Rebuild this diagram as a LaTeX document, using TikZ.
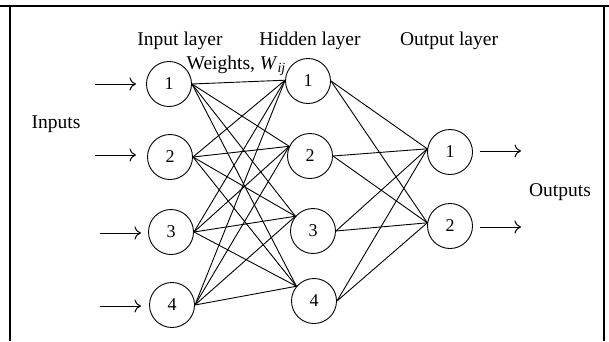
\documentclass[tikz,border=0pt]{standalone}
\usepackage{fontspec}
\setmainfont{Liberation Serif}
\usetikzlibrary{arrows.meta}
\begin{document}
\begin{tikzpicture}[x=1pt,y=-1pt,
  neuron/.style={circle,draw,line width=0.9pt,minimum size=45pt,inner sep=0pt,font=\fontsize{18}{20}\selectfont},
  lbl/.style={font=\fontsize{19.5}{22}\selectfont,inner sep=0pt},
  wire/.style={line width=0.9pt},
  inarrow/.style={line width=1pt,-{Computer Modern Rightarrow[length=6.5pt,width=13pt]}},
  frame/.style={line width=1.5pt}]
\useasboundingbox (0,0) rectangle (609,341);
\draw[frame] (0,6) -- (609,6);
\draw[frame] (10,6) -- (10,341);
\draw[frame] (604,6) -- (604,341);
% labels
\node[lbl] (linput) at (180,41) {Input layer};
\node[lbl] (lhidden) at (310,41) {Hidden layer};
\node[lbl] (loutput) at (449,41) {Output layer};
\node[lbl] (lweights) at (236,66) {Weights, \textit{W}\raisebox{-0.35ex}{\fontsize{14}{14}\selectfont\textit{ij}}};
\node[lbl] (linputs) at (56,124) {Inputs};
\node[lbl] (loutputs) at (560,192) {Outputs};
% neurons
\node[neuron] (i1) at (169,84) {1};
\node[neuron] (i2) at (170,157) {2};
\node[neuron] (i3) at (171,232) {3};
\node[neuron] (i4) at (172,305) {4};
\node[neuron] (h1) at (308,81) {1};
\node[neuron] (h2) at (310,156) {2};
\node[neuron] (h3) at (313,231) {3};
\node[neuron] (h4) at (314,301) {4};
\node[neuron] (o1) at (450,152) {1};
\node[neuron] (o2) at (450,226) {2};
% hidden entry points
\coordinate (h1in) at (h1.178);
\coordinate (h2in) at (h2.155);
\coordinate (h3in) at (h3.140);
\coordinate (h4in) at (h4.140);
\coordinate (o1in) at (o1.172);
\coordinate (o2in) at (o2.172);
\foreach \i in {1,2,3,4}{
  \foreach \h in {1,2,3,4}{
    \draw[wire] (i\i.east) -- (h\h in);
  }
  \foreach \o in {1,2}{
    \draw[wire] (h\i.east) -- (o\o in);
  }
}
% input arrows
\coordinate (a1s) at (95,84);  \coordinate (a1e) at (136,84);
\coordinate (a2s) at (95,155); \coordinate (a2e) at (136,155);
\coordinate (a3s) at (100,233); \coordinate (a3e) at (141,233);
\coordinate (a4s) at (100,306); \coordinate (a4e) at (141,306);
\foreach \k in {1,2,3,4}{\draw[inarrow] (a\k s) -- (a\k e);}
% output arrows
\coordinate (b1s) at (480,151); \coordinate (b1e) at (521,151);
\coordinate (b2s) at (480,227); \coordinate (b2e) at (521,227);
\draw[inarrow] (b1s) -- (b1e);
\draw[inarrow] (b2s) -- (b2e);
\end{tikzpicture}
\end{document}
